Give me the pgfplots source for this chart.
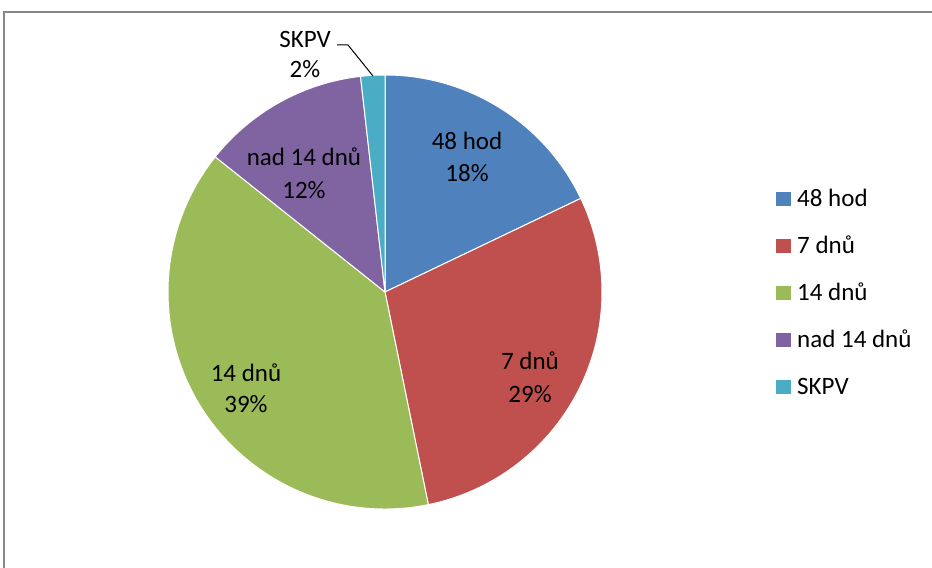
\documentclass[border=0pt]{standalone}
\usepackage{pgfplots}
\pgfplotsset{compat=1.18}
\usepackage{pgfplotstable}
\usepackage{fontspec}
\setmainfont{Carlito}
\definecolor{c0}{HTML}{4F81BD}
\definecolor{c1}{HTML}{C0504D}
\definecolor{c2}{HTML}{9BBB59}
\definecolor{c3}{HTML}{8064A2}
\definecolor{c4}{HTML}{4BACC6}
\definecolor{framegray}{HTML}{868686}
\pgfplotstableread{
label value
{48 hod} 17.9
{7 dnů} 28.9
{14 dnů} 38.9
{nad 14 dnů} 12.5
{SKPV} 1.8
}\piedata
\begin{document}
\begin{tikzpicture}
\fontsize{25bp}{30bp}\selectfont
\useasboundingbox (0,0) rectangle (932bp,568bp);
% cumulative angles from the data
\def\cum{0}
\pgfplotsforeachungrouped \i in {0,...,4}{%
  \pgfplotstablegetelem{\i}{value}\of\piedata
  \pgfmathsetmacro\s{90-3.6*\cum}%
  \pgfmathsetmacro\cum{\cum+\pgfplotsretval}%
  \pgfmathsetmacro\e{90-3.6*\cum}%
  \expandafter\xdef\csname sa\i\endcsname{\s}%
  \expandafter\xdef\csname ea\i\endcsname{\e}%
}
\begin{axis}[
  at={(0,0)}, anchor=south west,
  width=932bp, height=568bp, scale only axis,
  xmin=0, xmax=932, ymin=0, ymax=568,
  hide axis, clip=false,
]
\pgfplotsinvokeforeach{0,...,4}{
  \fill[c#1, draw=white, line width=1bp, line join=round]
    (axis cs:385,276) -- ++(\csname sa#1\endcsname:217bp)
    arc[start angle=\csname sa#1\endcsname, end angle=\csname ea#1\endcsname, radius=217bp] -- cycle;
}
% frame
\draw[framegray, line width=1.5bp] (axis cs:4,-10) -- (axis cs:4,556) -- (axis cs:950,556);
% data labels
\tikzset{lab/.style={anchor=base, inner sep=0pt, font=\fontsize{25bp}{30bp}\selectfont}}
\node[lab] at (axis cs:467,418) {48 hod};
\node[lab] at (axis cs:467,386) {18\%};
\node[lab] at (axis cs:530,198) {7 dnů};
\node[lab] at (axis cs:530,165) {29\%};
\node[lab] at (axis cs:246,186) {14 dnů};
\node[lab] at (axis cs:246,155) {39\%};
\node[lab] at (axis cs:304,402) {nad 14 dnů};
\node[lab] at (axis cs:304,369) {12\%};
\node[lab] at (axis cs:305,520) {SKPV};
\node[lab] at (axis cs:305,490) {2\%};
\draw[black, line width=1bp] (axis cs:337,523) -- (axis cs:348,523) -- (axis cs:373,492);
% legend
\pgfplotsinvokeforeach{0,...,4}{
  \fill[c#1] (axis cs:776,{362-47*#1}) rectangle (axis cs:791,{376-47*#1});
}
\node[lab, anchor=base west] at (axis cs:797,361) {48 hod};
\node[lab, anchor=base west] at (axis cs:797,314) {7 dnů};
\node[lab, anchor=base west] at (axis cs:797,267) {14 dnů};
\node[lab, anchor=base west] at (axis cs:797,220) {nad 14 dnů};
\node[lab, anchor=base west] at (axis cs:797,173) {SKPV};
\end{axis}
\end{tikzpicture}
\end{document}
